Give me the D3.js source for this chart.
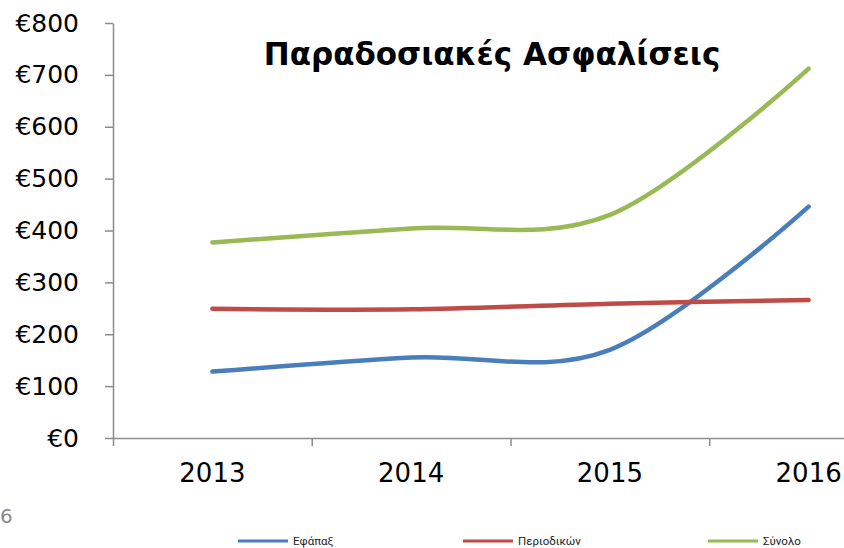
<!DOCTYPE html>
<html>
<head>
<meta charset="utf-8">
<script src="https://cdn.jsdelivr.net/npm/d3@7"></script>
<style>
  html, body { margin: 0; padding: 0; background: #fff; }
  svg { display: block; }
</style>
</head>
<body>
<svg id="chart"></svg>
<script>
const years = ['2013', '2014', '2015', '2016'];
const efapax = [128, 155, 170, 446];
const periodikon = [249, 248, 259, 266];
const synolo = [377, 404, 430, 712];
const yTicks = [0, 100, 200, 300, 400, 500, 600, 700, 800];
const seriesNames = ['Εφάπαξ', 'Περιοδικών', 'Σύνολο'];
const seriesColors = ['#4a7ebb', '#be4b48', '#98b954'];

function render() {
  const W = 844, H = 548;
  const svg = d3.select('#chart').attr('width', W).attr('height', H);

  const left = 113, right = 908, top = 23, bottom = 438;

  const x = d3.scaleBand().domain(years).range([left, right]);
  const xEdges = d3.scaleLinear().domain([0, years.length]).range([left, right]);
  const y = d3.scaleLinear().domain([0, 800]).range([bottom, top]);

  const axisColor = '#8c8c8c';
  const tickFont = '"DejaVu Sans", sans-serif';

  // y axis
  const gy = svg.append('g')
    .attr('transform', `translate(${left},0)`)
    .call(d3.axisLeft(y).tickValues(yTicks).tickSize(8).tickSizeOuter(0).tickPadding(26)
      .tickFormat(d => '€' + d));
  gy.selectAll('path, line').attr('stroke', axisColor).attr('stroke-width', 1.5);
  gy.selectAll('text').attr('fill', '#000').style('font-family', tickFont).style('font-size', '25px');

  // x axis (ticks between categories)
  const gx = svg.append('g')
    .attr('transform', `translate(0,${bottom})`)
    .call(d3.axisBottom(xEdges).tickValues(d3.range(years.length + 1)).tickSize(8)
      .tickSizeOuter(0).tickFormat(''));
  gx.selectAll('path, line').attr('stroke', axisColor).attr('stroke-width', 1.5);

  const gxl = svg.append('g')
    .attr('transform', `translate(0,${bottom})`)
    .call(d3.axisBottom(x).tickSize(0).tickPadding(26));
  gxl.select('.domain').remove();
  gxl.selectAll('text').attr('fill', '#000').style('font-family', tickFont).style('font-size', '26px');

  // lines
  const line = d3.line()
    .x((d, i) => x(years[i]) + x.bandwidth() / 2)
    .y(d => y(d))
    .curve(d3.curveCardinal.tension(0));

  [efapax, periodikon, synolo].forEach((vals, i) => {
    svg.append('path')
      .datum(vals)
      .attr('d', line)
      .attr('fill', 'none')
      .attr('stroke', seriesColors[i])
      .attr('stroke-width', 4.5)
      .attr('stroke-linecap', 'round')
      .attr('stroke-linejoin', 'round');
  });

  // title
  svg.append('text')
    .attr('x', 492).attr('y', 65)
    .attr('text-anchor', 'middle')
    .style('font-family', '"DejaVu Sans", sans-serif')
    .style('font-weight', 'bold')
    .style('font-size', '31px')
    .text('Παραδοσιακές Ασφαλίσεις');

  // page number fragment
  svg.append('text')
    .attr('x', 0).attr('y', 523)
    .attr('fill', '#8a8a8a')
    .style('font-family', '"DejaVu Sans", sans-serif')
    .style('font-size', '20px')
    .text('6');

  // legend
  const legendX = [238, 463, 708];
  const leg = svg.append('g').selectAll('g')
    .data(seriesNames)
    .enter().append('g')
    .attr('transform', (d, i) => `translate(${legendX[i]},541)`);
  leg.append('line')
    .attr('x1', 0).attr('x2', 50).attr('y1', 0).attr('y2', 0)
    .attr('stroke', (d, i) => seriesColors[i])
    .attr('stroke-width', 3);
  leg.append('text')
    .attr('x', 55).attr('y', 4)
    .style('font-family', 'Roboto, sans-serif')
    .style('font-size', '11.5px')
    .attr('fill', '#222')
    .text(d => d);
}

render();
</script>
</body>
</html>
